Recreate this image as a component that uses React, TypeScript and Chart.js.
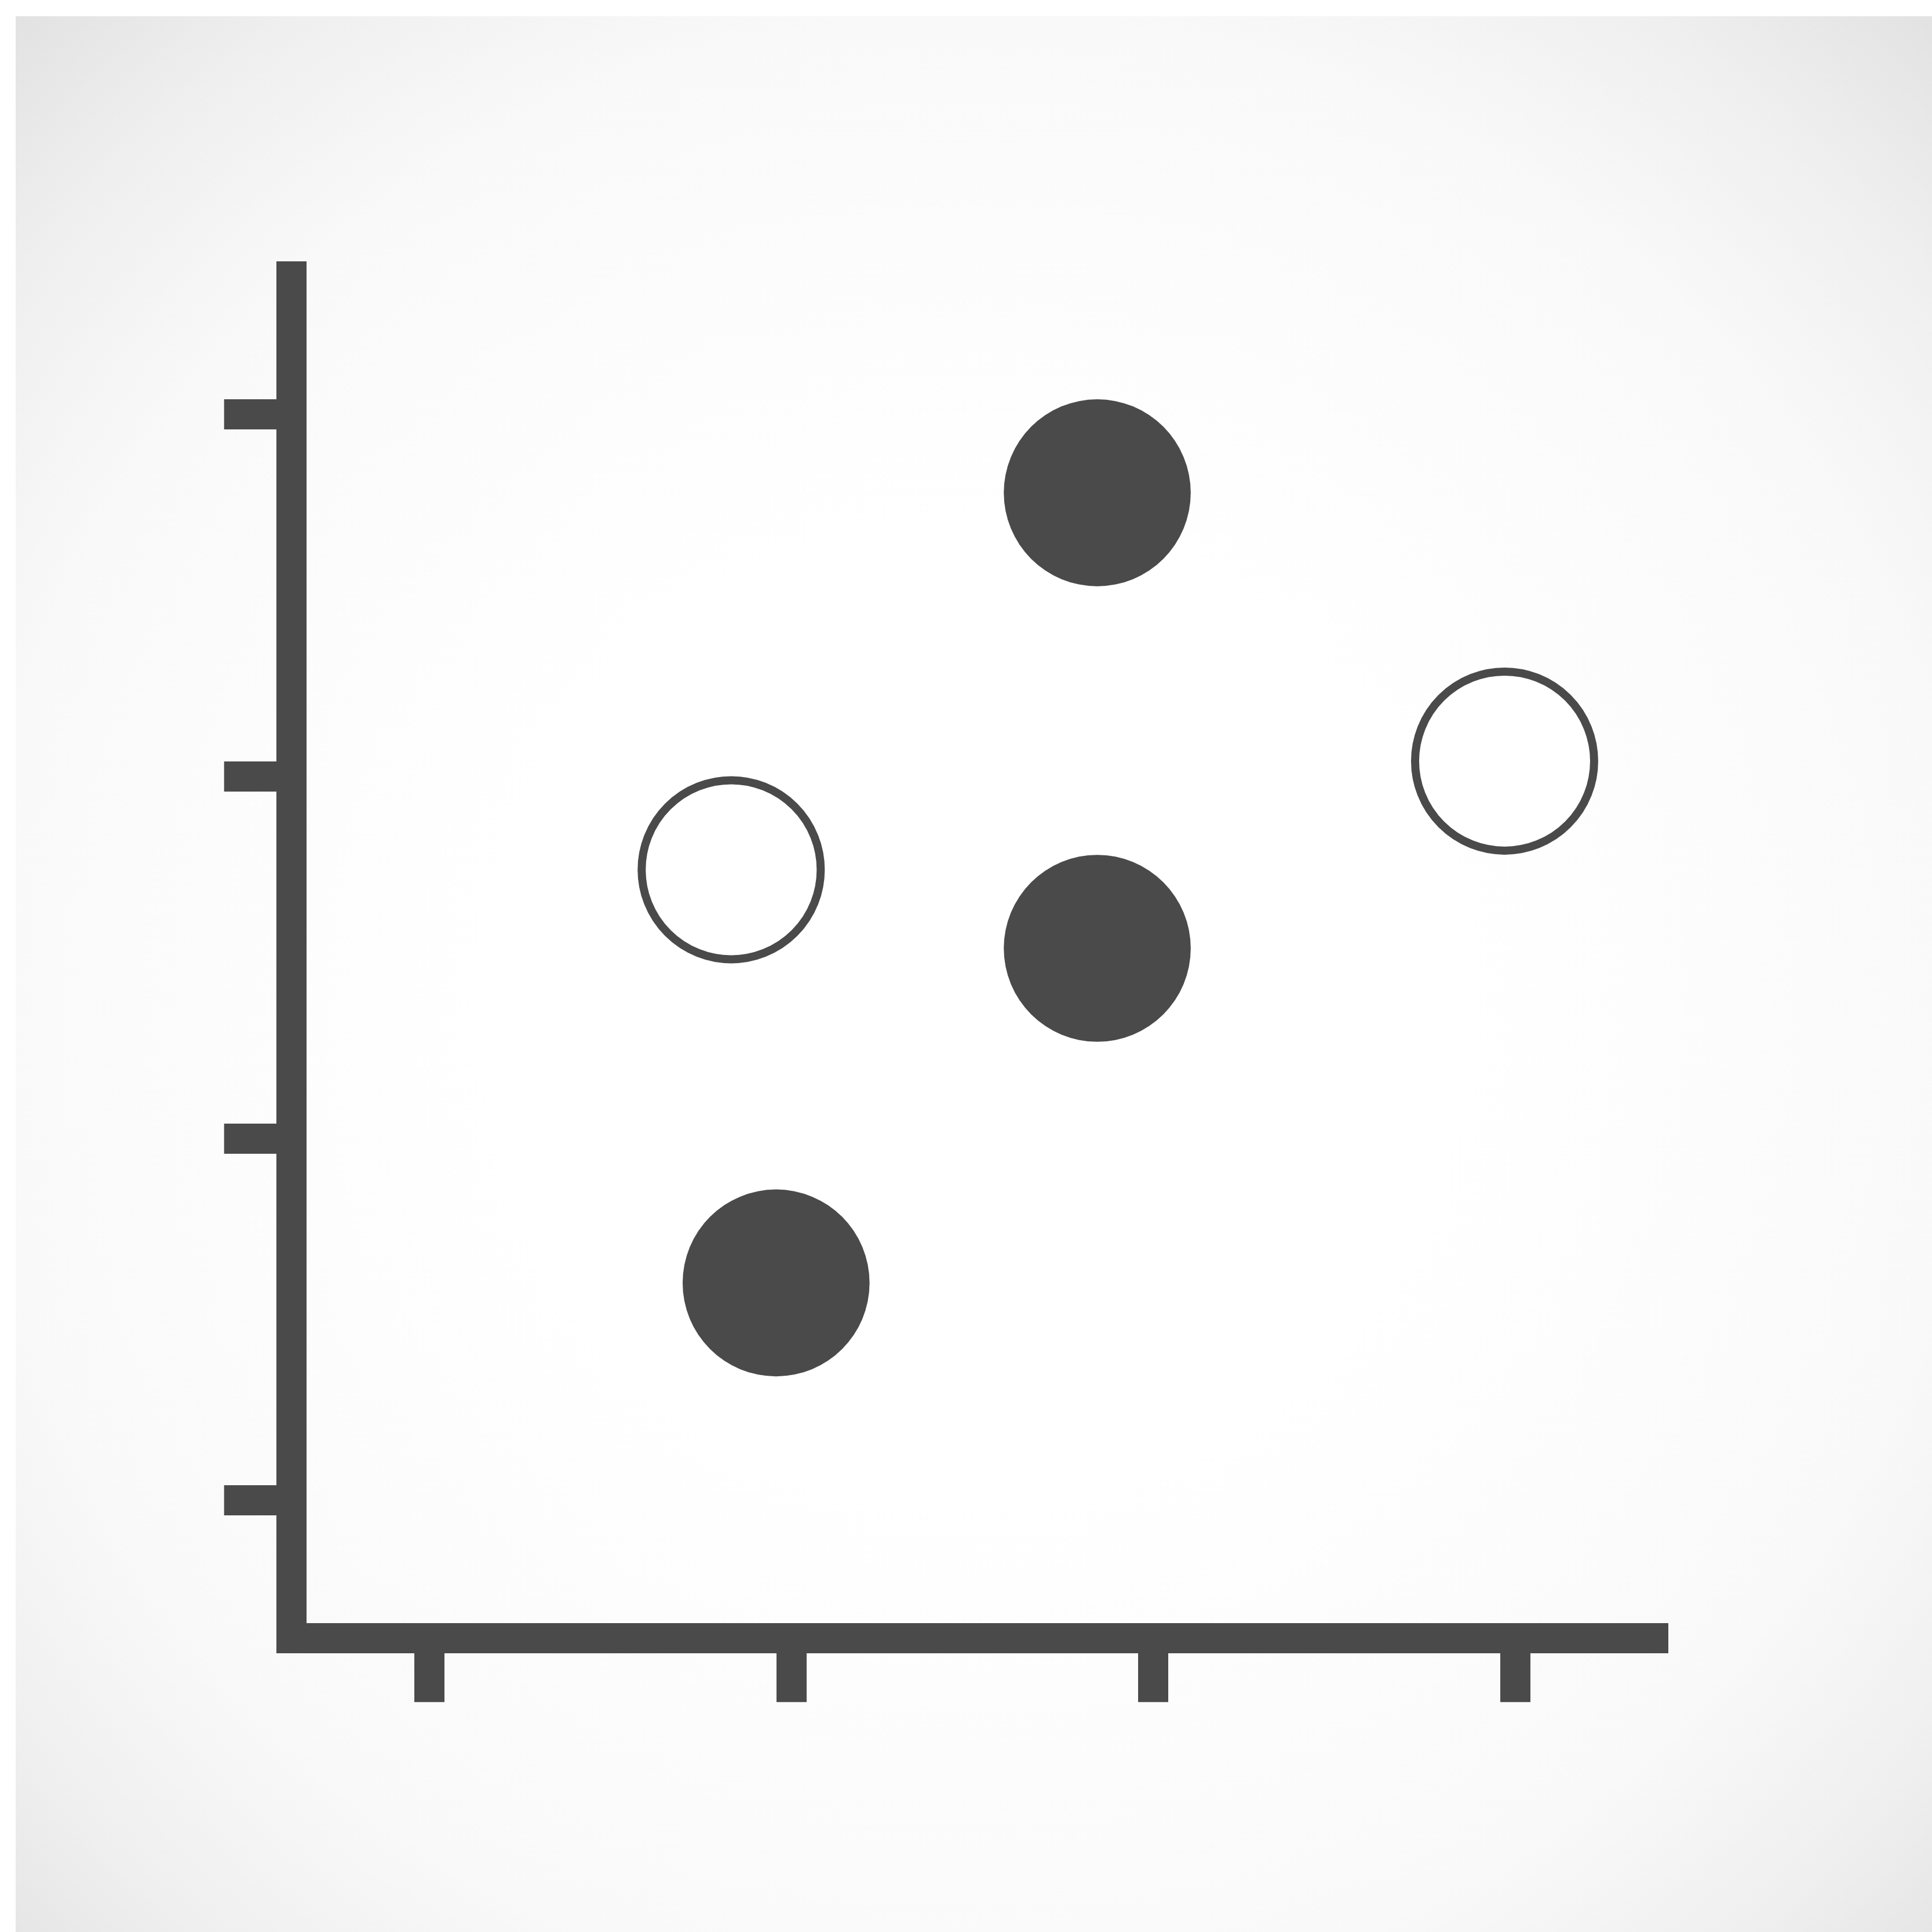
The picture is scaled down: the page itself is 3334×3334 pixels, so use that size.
import React, { useEffect, useRef } from "react";
import { Chart, registerables } from "chart.js";

Chart.register(...registerables);

// ---- data ----
const filledX = [2.845, 2.845, 1.958];
const filledY = [3.783, 2.525, 1.601];
const hollowX = [1.834, 3.970];
const hollowY = [2.742, 3.042];
const xTickValues = [1, 2, 3, 4];
const yTickValues = [1, 2, 3, 4];
const xRange = [0.6196, 4.4217];
const yRange = [0.6199, 4.38];

const INK = "#4a4a4a";
const SIZE = 3334;

export default function App() {
  const ref = useRef<HTMLCanvasElement | null>(null);

  useEffect(() => {
    const canvas = ref.current;
    if (!canvas) return;
    const chart = new Chart(canvas, {
      type: "scatter",
      data: {
        datasets: [
          {
            label: "filled",
            data: filledX.map((x, i) => ({ x, y: filledY[i] })),
            pointRadius: 161.3,
            pointHoverRadius: 161.3,
            pointBorderWidth: 0,
            borderWidth: 0,
            backgroundColor: INK,
            borderColor: INK,
            pointStyle: "circle",
          },
          {
            label: "hollow",
            data: hollowX.map((x, i) => ({ x, y: hollowY[i] })),
            pointRadius: 154.5,
            pointHoverRadius: 154.5,
            pointBorderWidth: 14,
            borderWidth: 14,
            backgroundColor: "#ffffff",
            borderColor: INK,
            pointStyle: "circle",
          },
        ],
      },
      options: {
        animation: false,
        responsive: false,
        devicePixelRatio: 1,
        events: [],
        layout: {
          padding: { left: 386.7, top: 477.3, right: 455.3, bottom: 396.7 },
        },
        plugins: {
          legend: { display: false },
          tooltip: { enabled: false },
          title: { display: false },
        },
        scales: {
          x: {
            type: "linear",
            position: "bottom",
            min: xRange[0],
            max: xRange[1],
            afterBuildTicks: (scale: any) => {
              scale.ticks = xTickValues.map((v) => ({ value: v }));
            },
            ticks: { display: false },
            grid: {
              display: true,
              drawOnChartArea: false,
              drawTicks: true,
              tickLength: 110.3,
              tickWidth: 52,
              tickColor: INK,
              lineWidth: 0,
              color: INK,
            },
            border: { display: true, width: 52, color: INK },
          },
          y: {
            type: "linear",
            position: "left",
            min: yRange[0],
            max: yRange[1],
            afterBuildTicks: (scale: any) => {
              scale.ticks = yTickValues.map((v) => ({ value: v }));
            },
            ticks: { display: false },
            grid: {
              display: true,
              drawOnChartArea: false,
              drawTicks: true,
              tickLength: 116.3,
              tickWidth: 52,
              tickColor: INK,
              lineWidth: 0,
              color: INK,
            },
            border: { display: true, width: 52, color: INK },
          },
        },
      },
    });
    return () => chart.destroy();
  }, []);

  return (
    <div
      style={{
        position: "absolute",
        left: 0,
        top: 0,
        width: SIZE,
        height: SIZE,
        background: "#ffffff",
        overflow: "hidden",
      }}
    >
      <div
        style={{
          position: "absolute",
          left: 27,
          top: 28,
          right: 0,
          bottom: 0,
          background:
            "radial-gradient(circle farthest-corner at 50% 52%, #ffffff 0%, #ffffff 35%, #fcfcfc 56%, #f9f9f9 72%, #efefef 87%, #e2e2e2 100%)",
        }}
      />
      <canvas
        ref={ref}
        width={SIZE}
        height={SIZE}
        style={{ position: "absolute", left: 0, top: 0, width: SIZE, height: SIZE }}
      />
    </div>
  );
}
